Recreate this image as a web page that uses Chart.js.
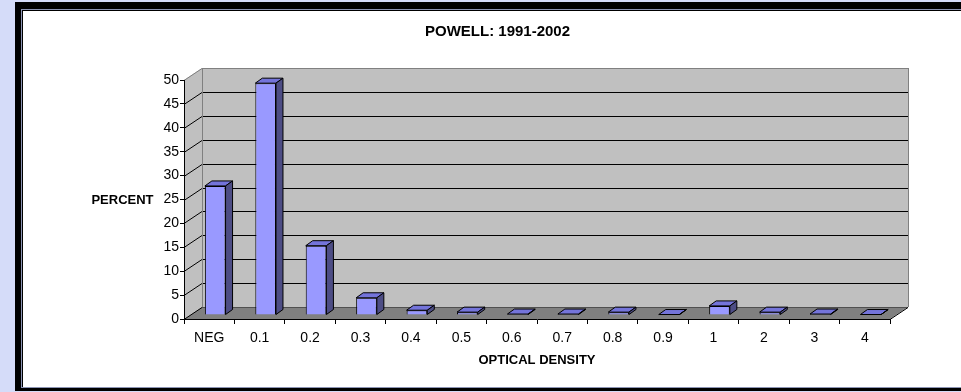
<!DOCTYPE html>
<html>
<head>
<meta charset="utf-8">
<script src="https://cdn.jsdelivr.net/npm/chart.js@4.4.1/dist/chart.umd.min.js"></script>
<style>
  html, body { margin: 0; padding: 0; background: #d5dcf9; }
  #wrap { width: 961px; height: 392px; }
</style>
</head>
<body>
<div id="wrap"><canvas id="c" width="961" height="392"></canvas></div>
<script>
// Distribution of optical density readings, 1991-2002
const categories = ['NEG', '0.1', '0.2', '0.3', '0.4', '0.5', '0.6', '0.7', '0.8', '0.9', '1', '2', '3', '4'];
const percentValues = [27, 48.5, 14.5, 3.6, 1.0, 0.6, 0.2, 0.2, 0.6, 0.1, 1.9, 0.6, 0.2, 0.1];
const yMin = 0;
const yMax = 50;
const yStep = 5;
const chartTitle = 'POWELL: 1991-2002';
const xTitle = 'OPTICAL DENSITY';
const yTitle = 'PERCENT';

const FONT = '"Liberation Sans", Arial, sans-serif';

// depth of the walls / floor and of the columns
const WALL_DX = 18, WALL_DY = -12;
const BAR_SHIFT_X = 6, BAR_SHIFT_Y = -4;
const BAR_DX = 7, BAR_DY = -5;

function poly(ctx, pts) {
  ctx.beginPath();
  ctx.moveTo(pts[0][0], pts[0][1]);
  for (let i = 1; i < pts.length; i++) ctx.lineTo(pts[i][0], pts[i][1]);
  ctx.closePath();
}

const threeD = {
  id: 'threeD',
  beforeDraw(chart) {
    const ctx = chart.ctx;
    const { left: L, right: R, top: T, bottom: B } = chart.chartArea;
    const y = chart.scales.y;
    ctx.save();
    // page frame
    ctx.fillStyle = '#d5dcf9'; ctx.fillRect(0, 0, 961, 392);
    ctx.fillStyle = '#000000'; ctx.fillRect(15, 2, 946, 389);
    ctx.fillStyle = '#8c94b4'; ctx.fillRect(21, 9, 940, 379);
    ctx.fillStyle = '#000000'; ctx.fillRect(22, 10, 939, 377);
    ctx.fillStyle = '#ffffff'; ctx.fillRect(23, 11, 938, 376);

    // side wall, back wall, floor
    ctx.fillStyle = '#c0c0c0';
    poly(ctx, [[L, T], [L + WALL_DX, T + WALL_DY], [L + WALL_DX, B + WALL_DY], [L, B]]);
    ctx.fill();
    ctx.fillRect(L + WALL_DX, T + WALL_DY, R - L, B - T);
    ctx.fillStyle = '#808080';
    poly(ctx, [[L, B], [L + WALL_DX, B + WALL_DY], [R + WALL_DX, B + WALL_DY], [R, B]]);
    ctx.fill();

    // horizontal gridlines running across side and back walls
    ctx.lineWidth = 1;
    y.ticks.forEach(t => {
      if (t.value === yMin) return;
      const py = Math.round(y.getPixelForValue(t.value)) + 0.5;
      ctx.strokeStyle = t.value === yMax ? '#808080' : '#000000';
      ctx.beginPath();
      ctx.moveTo(L, py);
      ctx.lineTo(L + WALL_DX, py + WALL_DY);
      ctx.lineTo(R + WALL_DX, py + WALL_DY);
      ctx.stroke();
    });

    // wall edges
    ctx.strokeStyle = '#808080';
    ctx.beginPath();
    ctx.moveTo(L + WALL_DX + 0.5, T + WALL_DY);
    ctx.lineTo(L + WALL_DX + 0.5, B + WALL_DY);
    ctx.moveTo(R + WALL_DX + 0.5, T + WALL_DY);
    ctx.lineTo(R + WALL_DX + 0.5, B + WALL_DY);
    ctx.stroke();
    ctx.strokeStyle = '#505050';
    ctx.beginPath();
    ctx.moveTo(L + WALL_DX, B + WALL_DY + 0.5);
    ctx.lineTo(R + WALL_DX, B + WALL_DY + 0.5);
    ctx.stroke();
    ctx.strokeStyle = '#000000';
    ctx.beginPath();
    ctx.moveTo(L, B + 0.5);
    ctx.lineTo(L + WALL_DX, B + WALL_DY + 0.5);
    ctx.moveTo(R, B + 0.5);
    ctx.lineTo(R + WALL_DX, B + WALL_DY + 0.5);
    ctx.stroke();

    // horizontal value-axis caption
    ctx.fillStyle = '#000000';
    ctx.font = 'bold 13px ' + FONT;
    ctx.textAlign = 'center';
    ctx.textBaseline = 'middle';
    ctx.fillText(yTitle, 122.5, y.getPixelForValue(25) + 0.5);
    ctx.restore();
  },
  beforeDatasetDraw(chart) {
    chart.ctx.save();
    chart.ctx.translate(BAR_SHIFT_X, BAR_SHIFT_Y);
  },
  afterDatasetDraw(chart, args) {
    const ctx = chart.ctx;
    ctx.lineWidth = 1;
    ctx.strokeStyle = '#000000';
    args.meta.data.forEach(el => {
      const { x, y, base, width } = el.getProps(['x', 'y', 'base', 'width'], true);
      const l = x - width / 2, r = x + width / 2;
      // top face
      ctx.fillStyle = '#7474da';
      poly(ctx, [[l, y], [l + BAR_DX, y + BAR_DY], [r + BAR_DX, y + BAR_DY], [r, y]]);
      ctx.fill(); ctx.stroke();
      // side face
      ctx.fillStyle = '#4d4d85';
      poly(ctx, [[r, y], [r + BAR_DX, y + BAR_DY], [r + BAR_DX, base + BAR_DY], [r, base]]);
      ctx.fill(); ctx.stroke();
    });
    ctx.restore();
  }
};

new Chart(document.getElementById('c'), {
  type: 'bar',
  data: {
    labels: categories,
    datasets: [{
      data: percentValues,
      backgroundColor: '#9999ff',
      borderColor: '#000000',
      borderWidth: 1,
      barPercentage: 0.41,
      categoryPercentage: 1,
      clip: false
    }]
  },
  options: {
    responsive: false,
    animation: false,
    devicePixelRatio: 1,
    layout: { padding: { left: 105, right: 71, top: 0, bottom: 0 } },
    plugins: {
      legend: { display: false },
      tooltip: { enabled: false },
      title: {
        display: true,
        text: chartTitle,
        color: '#000000',
        font: { family: FONT, size: 15, weight: 'bold' },
        padding: { top: 23, bottom: 39 }
      }
    },
    scales: {
      x: {
        grid: { offset: true, drawOnChartArea: false, drawTicks: true, tickLength: 5, color: '#000000' },
        border: { display: true, color: '#000000' },
        ticks: { color: '#000000', font: { family: FONT, size: 14 }, padding: 6, maxRotation: 0, autoSkip: false },
        title: {
          display: true,
          text: xTitle,
          color: '#000000',
          font: { family: FONT, size: 13, weight: 'bold' },
          padding: { top: 0, bottom: 24 }
        },
        afterFit(scale) { scale.height = 73; }
      },
      y: {
        min: yMin,
        max: yMax,
        ticks: { stepSize: yStep, color: '#000000', font: { family: FONT, size: 14 }, padding: 1 },
        grid: { drawOnChartArea: false, drawTicks: true, tickLength: 4, color: '#000000' },
        border: { display: true, color: '#000000' },
        afterFit(scale) { scale.width = 79; }
      }
    }
  },
  plugins: [threeD]
});
</script>
</body>
</html>
